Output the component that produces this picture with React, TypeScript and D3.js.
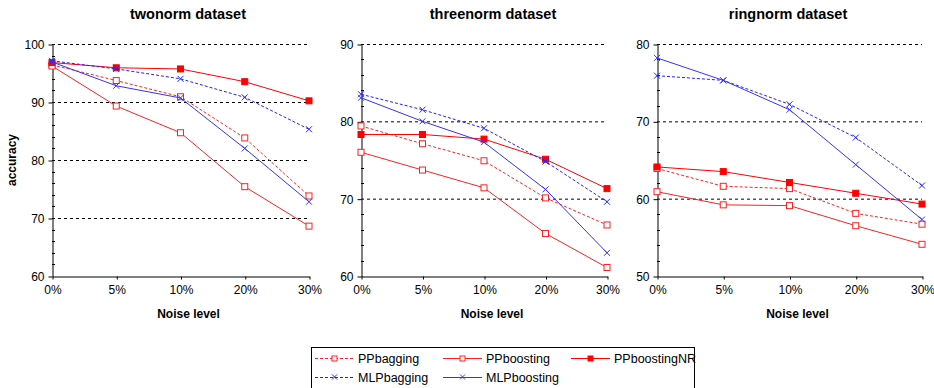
import { useEffect, useRef } from "react";
import * as d3 from "d3";

const noiseLevels = ["0%", "5%", "10%", "20%", "30%"];

// twonorm
const twoPPbagging = [96.4, 93.7, 90.9, 83.8, 73.8];
const twoPPboosting = [96.2, 89.3, 84.7, 75.4, 68.6];
const twoPPboostingNR = [96.8, 95.9, 95.7, 93.5, 90.2];
const twoMLPbagging = [97.1, 95.7, 94.0, 90.8, 85.3];
const twoMLPboosting = [96.9, 92.8, 90.7, 82.0, 72.8];

// threenorm
const threePPbagging = [79.4, 77.1, 74.9, 70.1, 66.6];
const threePPboosting = [76.0, 73.7, 71.4, 65.5, 61.1];
const threePPboostingNR = [78.3, 78.3, 77.7, 75.1, 71.3];
const threeMLPbagging = [83.5, 81.5, 79.1, 74.8, 69.6];
const threeMLPboosting = [83.05, 80.0, 77.3, 71.2, 63.0];

// ringnorm
const ringPPbagging = [63.9, 61.6, 61.3, 58.1, 56.7];
const ringPPboosting = [60.9, 59.2, 59.1, 56.5, 54.1];
const ringPPboostingNR = [64.1, 63.5, 62.1, 60.7, 59.3];
const ringMLPbagging = [75.9, 75.3, 72.2, 67.9, 61.7];
const ringMLPboosting = [78.2, 75.3, 71.5, 64.4, 57.3];

const seriesNames = ["PPbagging", "PPboosting", "PPboostingNR", "MLPbagging", "MLPboosting"];

const seriesStyle: Record<string, { color: string; dashed: boolean; marker: string }> = {
    PPbagging: { color: "#ff2020", dashed: true, marker: "open" },
    PPboosting: { color: "#ff2020", dashed: false, marker: "open" },
    PPboostingNR: { color: "#ff0000", dashed: false, marker: "filled" },
    MLPbagging: { color: "#2020ff", dashed: true, marker: "x" },
    MLPboosting: { color: "#3333ff", dashed: false, marker: "x" },
};

const FONT = "Liberation Sans, Arial, sans-serif";

const panels = [
    {
        title: "twonorm dataset", titleX: 188, left: 52, right: 309, domain: [60, 100], ticks: [60, 70, 80, 90, 100],
        series: [twoPPbagging, twoPPboosting, twoPPboostingNR, twoMLPbagging, twoMLPboosting],
    },
    {
        title: "threenorm dataset", titleX: 493, left: 361, right: 607, domain: [60, 90], ticks: [60, 70, 80, 90],
        series: [threePPbagging, threePPboosting, threePPboostingNR, threeMLPbagging, threeMLPboosting],
    },
    {
        title: "ringnorm dataset", titleX: 788, left: 657, right: 922, domain: [50, 80], ticks: [50, 60, 70, 80],
        series: [ringPPbagging, ringPPboosting, ringPPboostingNR, ringMLPbagging, ringMLPboosting],
    },
];

function drawMarker(g: any, kind: string, color: string, cx: number, cy: number) {
    if (kind === "x") {
        g.append("path")
            .attr("d", `M${cx - 3},${cy - 3}L${cx + 3},${cy + 3}M${cx - 3},${cy + 3}L${cx + 3},${cy - 3}`)
            .attr("stroke", color)
            .attr("stroke-width", 1)
            .attr("fill", "none");
    } else {
        g.append("rect")
            .attr("x", cx - 3)
            .attr("y", cy - 3)
            .attr("width", 6)
            .attr("height", 6)
            .attr("fill", kind === "filled" ? color : "#ffffff")
            .attr("stroke", color)
            .attr("stroke-width", 1);
    }
}

const App = () => {
    const ref = useRef<SVGSVGElement>(null);

    useEffect(() => {
        const svg = d3.select(ref.current);
        svg.selectAll("*").remove();

        const top = 44;
        const bottom = 276;

        panels.forEach((p, pi) => {
            const x = d3.scalePoint().domain(noiseLevels).range([p.left, p.right]);
            const y = d3.scaleLinear().domain(p.domain).range([bottom, top]);
            const g = svg.append("g");

            // title
            g.append("text")
                .attr("x", p.titleX)
                .attr("y", 19)
                .attr("text-anchor", "middle")
                .attr("font-family", FONT)
                .attr("font-size", "14.5px")
                .attr("font-weight", "bold")
                .text(p.title);

            // gridlines
            g.selectAll(".grid")
                .data(p.ticks.slice(1))
                .enter().append("line")
                .attr("x1", p.left)
                .attr("x2", p.right)
                .attr("y1", d => y(d) + 0.5)
                .attr("y2", d => y(d) + 0.5)
                .attr("stroke", "#000")
                .attr("stroke-width", 1)
                .attr("stroke-dasharray", "3,3");

            // minor ticks
            const minor = d3.range(p.domain[0], p.domain[1] + 0.01, 2).filter(v => (v - p.domain[0]) % 10 !== 0);
            g.selectAll(".minor")
                .data(minor)
                .enter().append("line")
                .attr("x1", p.left)
                .attr("x2", p.left + 3)
                .attr("y1", d => Math.round(y(d)) + 0.5)
                .attr("y2", d => Math.round(y(d)) + 0.5)
                .attr("stroke", "#000");

            // y axis
            const yAxis = g.append("g")
                .attr("transform", `translate(${p.left + 0.5},0.5)`)
                .call(d3.axisLeft(y).tickValues(p.ticks).tickSize(4).tickSizeOuter(0).tickPadding(4));
            yAxis.select(".domain").attr("stroke", "#000");
            yAxis.selectAll("text").attr("font-family", FONT).attr("font-size", "12px").attr("fill", "#000");

            // x axis
            const xAxis = g.append("g")
                .attr("transform", `translate(0.5,${bottom + 0.5})`)
                .call(d3.axisBottom(x).tickSize(3).tickSizeOuter(0).tickPadding(6));
            xAxis.select(".domain").attr("stroke", "#000");
            xAxis.selectAll("text").attr("font-family", FONT).attr("font-size", "12px").attr("fill", "#000");

            g.append("text")
                .attr("x", (p.left + p.right) / 2 + 8)
                .attr("y", 318)
                .attr("text-anchor", "middle")
                .attr("font-family", FONT)
                .attr("font-size", "12px")
                .attr("font-weight", "bold")
                .text("Noise level");

            if (pi === 0) {
                g.append("text")
                    .attr("transform", `translate(16,${(top + bottom) / 2}) rotate(-90)`)
                    .attr("text-anchor", "middle")
                    .attr("font-family", FONT)
                    .attr("font-size", "12px")
                    .attr("font-weight", "bold")
                    .text("accuracy");
            }

            const line = d3.line<number>()
                .x((_, i) => x(noiseLevels[i]) as number)
                .y(d => y(d));

            p.series.forEach((vals, si) => {
                const st = seriesStyle[seriesNames[si]];
                g.append("path")
                    .datum(vals)
                    .attr("d", line)
                    .attr("fill", "none")
                    .attr("stroke", st.color)
                    .attr("stroke-width", 1)
                    .attr("stroke-dasharray", st.dashed ? "3,2" : null);
                vals.forEach((v, i) => drawMarker(g, st.marker, st.color, x(noiseLevels[i]) as number, y(v)));
            });
        });

        // legend
        const lg = svg.append("g");
        lg.append("rect")
            .attr("x", 311.5)
            .attr("y", 347.5)
            .attr("width", 383)
            .attr("height", 45)
            .attr("fill", "#fff")
            .attr("stroke", "#000");
        const cols = [315, 443, 571];
        const rows = [358, 377];
        seriesNames.forEach((name, i) => {
            const st = seriesStyle[name];
            const lx = cols[i % 3];
            const ly = rows[Math.floor(i / 3)];
            lg.append("line")
                .attr("x1", lx)
                .attr("x2", lx + 39)
                .attr("y1", ly + 0.5)
                .attr("y2", ly + 0.5)
                .attr("stroke", st.color)
                .attr("stroke-dasharray", st.dashed ? "3,2" : null);
            if (st.marker === "x") {
                lg.append("path")
                    .attr("d", `M${lx + 17},${ly - 2.5}L${lx + 22},${ly + 2.5}M${lx + 17},${ly + 2.5}L${lx + 22},${ly - 2.5}`)
                    .attr("stroke", st.color)
                    .attr("fill", "none");
            } else {
                lg.append("rect")
                    .attr("x", lx + 17)
                    .attr("y", ly - 2)
                    .attr("width", 5)
                    .attr("height", 5)
                    .attr("fill", st.marker === "filled" ? st.color : "#fff")
                    .attr("stroke", st.color);
            }
            lg.append("text")
                .attr("x", lx + 43)
                .attr("y", ly + 4.5)
                .attr("font-family", FONT)
                .attr("font-size", "12.5px")
                .attr("fill", "#000")
                .text(name);
        });
    }, []);

    return (
        <svg
            ref={ref}
            width={934}
            height={388}
            style={{ position: "absolute", left: 0, top: 0, background: "#fff" }}
        />
    );
};

export default App;
